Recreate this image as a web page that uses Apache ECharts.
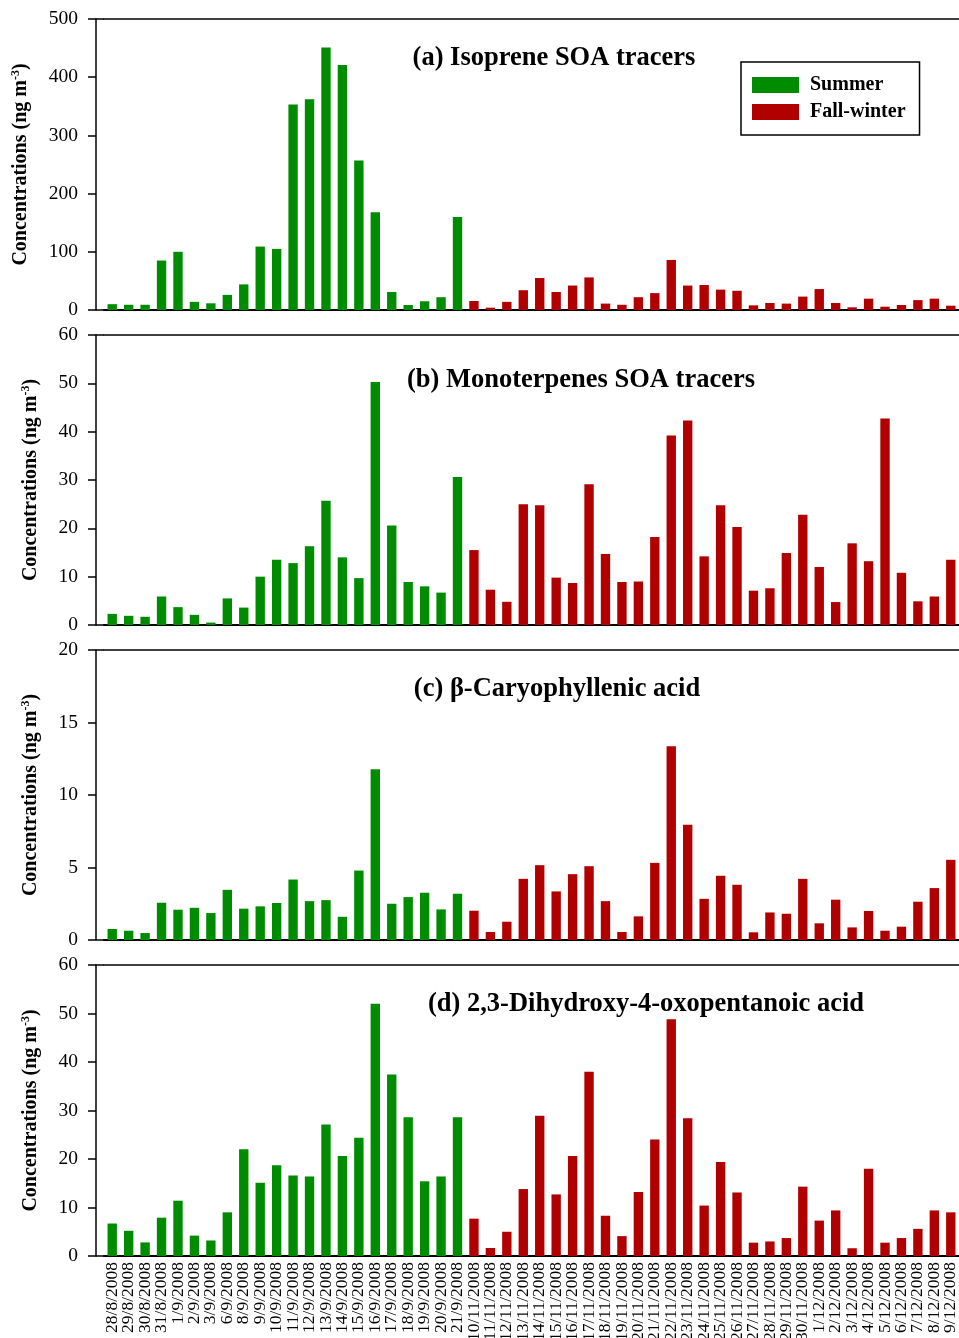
<!DOCTYPE html>
<html>
<head>
<meta charset="utf-8">
<script src="https://cdn.jsdelivr.net/npm/echarts@6/dist/echarts.min.js"></script>
<style>
  html, body { margin: 0; padding: 0; background: #fff; }
  #chart { width: 959px; height: 1338px; }
</style>
</head>
<body>
<div id="chart"></div>
<script>
// ---------- DATA ----------
const summerDates = ['28/8/2008','29/8/2008','30/8/2008','31/8/2008','1/9/2008','2/9/2008','3/9/2008','6/9/2008','8/9/2008','9/9/2008','10/9/2008','11/9/2008','12/9/2008','13/9/2008','14/9/2008','15/9/2008','16/9/2008','17/9/2008','18/9/2008','19/9/2008','20/9/2008','21/9/2008'];
const fallDates = ['10/11/2008','11/11/2008','12/11/2008','13/11/2008','14/11/2008','15/11/2008','16/11/2008','17/11/2008','18/11/2008','19/11/2008','20/11/2008','21/11/2008','22/11/2008','23/11/2008','24/11/2008','25/11/2008','26/11/2008','27/11/2008','28/11/2008','29/11/2008','30/11/2008','1/12/2008','2/12/2008','3/12/2008','4/12/2008','5/12/2008','6/12/2008','7/12/2008','8/12/2008','9/12/2008'];

const isopreneSummer = [10, 9, 9, 85, 100, 14, 11.5, 26, 44, 109, 105, 353, 362, 451, 421, 257, 168, 31, 8.6, 15, 22, 160];
const isopreneFall = [15.5, 4, 14, 34, 55, 31, 42, 56, 11, 9, 22, 29, 86, 42, 43, 35, 33, 8, 12, 11, 23, 36, 12, 4.6, 19.5, 5.7, 8.6, 17, 19.5, 7.4];

const monoSummer = [2.3, 1.9, 1.7, 5.9, 3.7, 2.1, 0.5, 5.5, 3.6, 10.0, 13.5, 12.8, 16.3, 25.7, 14.0, 9.7, 50.3, 20.6, 8.9, 8.0, 6.7, 30.6];
const monoFall = [15.5, 7.3, 4.8, 25.0, 24.8, 9.8, 8.7, 29.1, 14.7, 8.9, 9.0, 18.2, 39.2, 42.3, 14.2, 24.8, 20.3, 7.1, 7.6, 14.9, 22.8, 12.0, 4.75, 16.9, 13.2, 42.7, 10.8, 4.9, 5.9, 13.5];

const caryoSummer = [0.76, 0.64, 0.48, 2.57, 2.09, 2.22, 1.86, 3.46, 2.16, 2.32, 2.55, 4.17, 2.68, 2.75, 1.6, 4.79, 11.77, 2.5, 2.96, 3.26, 2.11, 3.19];
const caryoFall = [2.02, 0.55, 1.26, 4.22, 5.16, 3.35, 4.54, 5.09, 2.68, 0.55, 1.63, 5.32, 13.37, 7.94, 2.84, 4.43, 3.81, 0.53, 1.9, 1.81, 4.22, 1.15, 2.78, 0.87, 2.0, 0.64, 0.92, 2.64, 3.58, 5.53];

const dhopaSummer = [6.7, 5.2, 2.8, 7.9, 11.4, 4.2, 3.2, 9.0, 22.0, 15.1, 18.7, 16.6, 16.4, 27.1, 20.6, 24.4, 52.0, 37.4, 28.6, 15.4, 16.4, 28.6];
const dhopaFall = [7.7, 1.65, 5.0, 13.8, 28.9, 12.7, 20.6, 38.0, 8.3, 4.1, 13.2, 24.0, 48.8, 28.4, 10.4, 19.4, 13.1, 2.75, 3.0, 3.7, 14.3, 7.3, 9.4, 1.6, 18.0, 2.75, 3.7, 5.6, 9.4, 9.0];

const panelTitles = ['(a) Isoprene SOA tracers', '(b) Monoterpenes SOA tracers', '(c) β-Caryophyllenic acid', '(d) 2,3-Dihydroxy-4-oxopentanoic acid'];
const yMax = [500, 60, 20, 60];
const yStep = [100, 10, 5, 10];
const seriesNames = ['Summer', 'Fall-winter'];

// ---------- LAYOUT / STYLE ----------
const FONT = '"Liberation Serif", "Times New Roman", serif';
const GREEN = '#008C00';
const RED = '#B00000';
const gridTops = [19, 335, 650, 965];
const gridHeights = [291, 290, 290, 291];
const titleCx = [549, 576, 552, 641];
const titleCy = [54, 376, 685, 1000];
const nameGaps = [64, 54, 54, 54];

const categories = summerDates.concat(fallDates);
const summerSets = [isopreneSummer, monoSummer, caryoSummer, dhopaSummer];
const fallSets = [isopreneFall, monoFall, caryoFall, dhopaFall];

const grids = [], xAxes = [], yAxes = [], series = [], titles = [];
for (let i = 0; i < 4; i++) {
  grids.push({ left: 104, right: 0, top: gridTops[i], height: gridHeights[i], containLabel: false, outerBoundsMode: 'none' });
  // main bottom category axis
  xAxes.push({
    type: 'category', gridIndex: i, data: categories, position: 'bottom',
    boundaryGap: true,
    axisLine: { show: true, onZero: false, lineStyle: { color: '#000', width: 2 } },
    axisTick: { show: false },
    axisLabel: i === 3 ? {
      show: true, rotate: 90, interval: 0, margin: 6, hideOverlap: false,
      fontFamily: FONT, fontSize: 17.5, color: '#000'
    } : { show: false },
    splitLine: { show: false }
  });
  // top frame line
  xAxes.push({
    type: 'category', gridIndex: i, data: categories, position: 'top',
    axisLine: { show: true, onZero: false, lineStyle: { color: '#000', width: 1.5 } },
    axisTick: { show: false }, axisLabel: { show: false }, splitLine: { show: false }
  });
  // main y axis (shifted 8px left of plot area)
  yAxes.push({
    type: 'value', gridIndex: i, position: 'left', offset: 8,
    min: 0, max: yMax[i], interval: yStep[i],
    axisLine: { show: true, onZero: false, lineStyle: { color: '#000', width: 1.5 } },
    axisTick: { show: true, inside: false, length: 8, lineStyle: { color: '#000', width: 1.5 } },
    axisLabel: { show: true, margin: 18, fontFamily: FONT, fontSize: 19.5, color: '#000' },
    splitLine: { show: false },
    name: 'Concentrations (ng m{sup|-3})',
    nameLocation: 'middle', nameRotate: 90, nameGap: nameGaps[i],
    nameTextStyle: {
      fontFamily: FONT, fontWeight: 'bold', fontSize: 20, color: '#000', lineHeight: 22,
      rich: { sup: { fontFamily: FONT, fontWeight: 'bold', fontSize: 12, color: '#000', verticalAlign: 'top', lineHeight: 12 } }
    }
  });
  // auxiliary axis: draws the 0 and max ticks between y-axis and plot area
  yAxes.push({
    type: 'value', gridIndex: i, position: 'left', offset: 0,
    min: 0, max: yMax[i], interval: yMax[i],
    axisLine: { show: false, onZero: false },
    axisTick: { show: true, inside: false, length: 8, lineStyle: { color: '#000', width: 1.5 } },
    axisLabel: { show: false }, splitLine: { show: false }
  });
  const nS = summerSets[i].length, nF = fallSets[i].length;
  series.push({
    name: seriesNames[0], type: 'bar', xAxisIndex: 2 * i, yAxisIndex: 2 * i,
    data: summerSets[i].concat(new Array(nF).fill('-')),
    barWidth: '57%', barGap: '-100%',
    itemStyle: { color: GREEN }, animation: false
  });
  series.push({
    name: seriesNames[1], type: 'bar', xAxisIndex: 2 * i, yAxisIndex: 2 * i,
    data: new Array(nS).fill('-').concat(fallSets[i]),
    barWidth: '57%', barGap: '-100%',
    itemStyle: { color: RED }, animation: false
  });
  titles.push({
    text: panelTitles[i], left: titleCx[i], top: titleCy[i] - 16, textAlign: 'center',
    textStyle: { fontFamily: FONT, fontWeight: 'bold', fontSize: 26.5, color: '#000', lineHeight: 30 }
  });
}

const chart = echarts.init(document.getElementById('chart'), null, { renderer: 'canvas' });
chart.setOption({
  backgroundColor: '#fff',
  animation: false,
  title: titles,
  legend: {
    data: seriesNames, orient: 'vertical', left: 741, top: 62,
    itemWidth: 47, itemHeight: 16, itemGap: 7, icon: 'rect',
    padding: [13, 14, 13, 11],
    borderColor: '#000', borderWidth: 1.5,
    textStyle: { fontFamily: FONT, fontWeight: 'bold', fontSize: 20, color: '#000', padding: [0, 0, 0, 6] },
    selectedMode: false
  },
  grid: grids, xAxis: xAxes, yAxis: yAxes, series: series
});
</script>
</body>
</html>
